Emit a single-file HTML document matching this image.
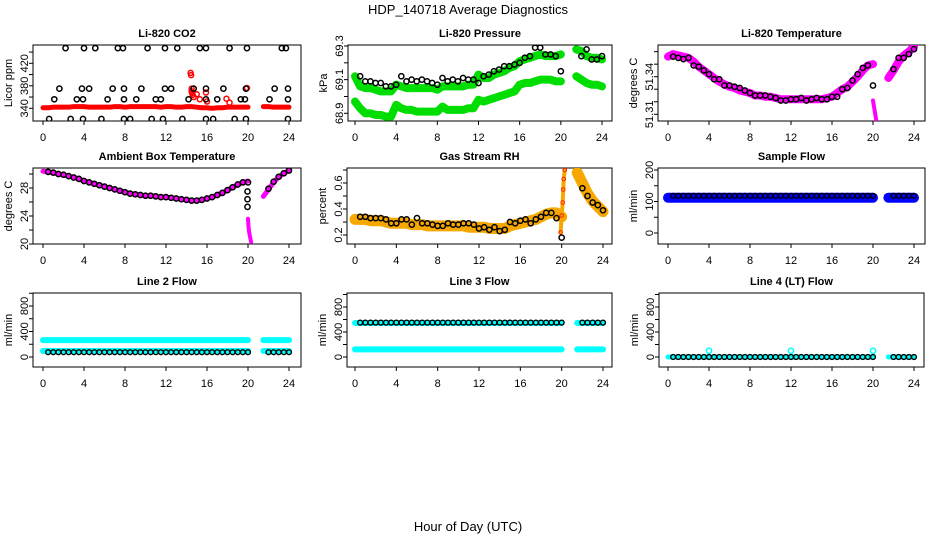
<!DOCTYPE html>
<html><head><meta charset="utf-8"><style>
html,body{margin:0;padding:0;background:#fff;}
svg text{font-family:"Liberation Sans",Arial,sans-serif;}
</style></head><body>
<svg id="chart" width="936" height="540" viewBox="0 0 936 540" xmlns="http://www.w3.org/2000/svg">
<rect width="936" height="540" fill="#fff"/>
<text x="468" y="14" font-size="13" text-anchor="middle">HDP_140718  Average Diagnostics</text>
<text x="468" y="531" font-size="13" text-anchor="middle">Hour of Day (UTC)</text>
</svg>
<script>
// ---- shared hour arrays ----
const colH = [0,0.5,1,1.5,2,2.5,3,3.5,4,4.5,5,5.5,6,6.5,7,7.5,8,8.5,9,9.5,10,10.5,11,11.5,12,12.5,13,13.5,14,14.5,15,15.5,16,16.5,17,17.5,18,18.5,19,19.5,20,21.5,22,22.5,23,23.5,24];
const blackH = [0.5,1,1.5,2,2.5,3,3.5,4,4.5,5,5.5,6,6.5,7,7.5,8,8.5,9,9.5,10,10.5,11,11.5,12,12.5,13,13.5,14,14.5,15,15.5,16,16.5,17,17.5,18,18.5,19,19.5,20,22,22.5,23,23.5,24];
const xTicks = [0,4,8,12,16,20,24];

// ---- CO2 ----
const co2Red = [341,341,342,342,342,342,343,343,343,342,342,342,342,342,343,343,342,343,343,343,343,343,343,342,343,343,342,342,343,343,342,341,341,340,341,341,342,342,342,342,342,343,343,342,342,342,342];
const co2SpikeX = [14.4,14.45,14.5,14.5,14.55,14.6,14.7,15,15.3,15.9,16,17.9,18.2,19.9];
const co2SpikeY = [403,399,375,370,367,364,360,365,356,368,352,357,350,376];
const co2BlackX = [2.2,4,5.1,7.3,7.8,10.2,11.9,13.1,15.3,15.9,18.2,19.9,23.3,23.7, 1.6,3.8,4.5,6.8,7.9,9.6,11.9,12.5,14.7,15.9,17.6,19.8,22.6,23.9, 1.1,3.3,3.9,6.3,7.9,9.1,11,11.5,14.2,15.9,17,19.3,19.7,22.1,23.9, 0.6,2.7,3.9,5.7,7.9,8.5,10.6,11.7,13.6,15.9,16.6,18.7,19.8,23.9];
const co2BlackY = [447,447,447,447,447,447,447,447,447,447,447,447,447,447, 375,375,375,375,375,375,375,375,375,375,375,375,375,375, 356,356,356,356,356,356,356,356,356,356,356,356,356,356,356, 321,321,321,321,321,321,321,321,321,321,321,321,321,321];

// ---- Pressure ----
const presUpper = [69.12,69.06,69.05,69.05,69.04,69.03,69.03,69.03,69.07,69.06,69.05,69.05,69.05,69.05,69.05,69.05,69.04,69.06,69.06,69.06,69.06,69.06,69.07,69.07,69.13,69.11,69.11,69.13,69.14,69.15,69.17,69.18,69.21,69.22,69.23,69.24,69.25,69.24,69.24,69.24,69.25,69.28,69.27,69.24,69.23,69.23,69.22];
const presLower = [68.97,68.93,68.9,68.9,68.89,68.89,68.88,68.88,68.95,68.93,68.92,68.92,68.91,68.91,68.91,68.91,68.91,68.94,68.92,68.92,68.92,68.92,68.93,68.93,68.98,68.97,68.98,68.99,69.0,69.01,69.02,69.03,69.07,69.08,69.08,69.09,69.1,69.1,69.1,69.09,69.09,69.12,69.1,69.08,69.07,69.07,69.06];
const presBlack = [69.12,69.09,69.09,69.08,69.08,69.06,69.06,69.07,69.12,69.09,69.1,69.09,69.1,69.09,69.08,69.07,69.11,69.09,69.1,69.09,69.11,69.1,69.1,69.08,69.12,69.13,69.15,69.16,69.18,69.18,69.19,69.2,69.23,69.24,69.29,69.29,69.25,69.25,69.24,69.15,69.24,69.28,69.22,69.22,69.24];

// ---- Li-820 temperature ----
const tempMag = [51.356,51.358,51.357,51.356,51.355,51.352,51.348,51.345,51.342,51.339,51.336,51.334,51.332,51.331,51.329,51.328,51.327,51.325,51.325,51.324,51.324,51.323,51.322,51.322,51.322,51.322,51.322,51.322,51.322,51.322,51.322,51.323,51.324,51.327,51.330,51.332,51.336,51.340,51.345,51.349,51.350,51.339,51.345,51.352,51.357,51.360,51.364];
const tempDropX = [20.0,20.1,20.2,20.3];
const tempDropY = [51.321,51.316,51.311,51.306];
const tempBlack = [51.356,51.355,51.354,51.355,51.349,51.348,51.345,51.342,51.338,51.338,51.333,51.333,51.332,51.331,51.329,51.327,51.325,51.325,51.325,51.324,51.323,51.321,51.321,51.322,51.322,51.323,51.321,51.322,51.323,51.322,51.322,51.324,51.324,51.330,51.331,51.337,51.342,51.347,51.349,51.333,51.346,51.355,51.355,51.358,51.362];

// ---- Ambient box temperature ----
const ambMag = [30.4,30.3,30.2,30.0,29.9,29.7,29.5,29.3,29.0,28.8,28.6,28.4,28.2,28.0,27.8,27.6,27.4,27.2,27.1,27.0,26.9,26.9,26.8,26.7,26.7,26.6,26.5,26.4,26.3,26.2,26.2,26.3,26.5,26.7,27.0,27.3,27.7,28.1,28.5,28.8,29.0,26.8,27.8,28.8,29.6,30.1,30.5];
const ambDropX = [20,20.05,20.1,20.2,20.3];
const ambDropY = [23.6,22.5,21.8,21,20.3];
const ambBlack = [30.3,30.2,30.0,29.9,29.7,29.5,29.3,29.0,28.8,28.6,28.4,28.2,28.0,27.8,27.6,27.4,27.2,27.1,27.0,26.9,26.9,26.8,26.7,26.7,26.6,26.5,26.4,26.3,26.2,26.2,26.3,26.5,26.7,27.0,27.3,27.7,28.1,28.5,28.8,28.8,27.9,28.9,29.6,30.1,30.5];
const ambOutX = [19.95,19.95,19.95];
const ambOutY = [27.5,26.4,25.3];

// ---- Gas stream RH ----
const rhOrange = [0.32,0.32,0.32,0.31,0.31,0.31,0.3,0.29,0.29,0.29,0.29,0.28,0.28,0.28,0.27,0.27,0.27,0.27,0.27,0.27,0.27,0.27,0.26,0.26,0.26,0.26,0.25,0.25,0.25,0.25,0.27,0.28,0.29,0.3,0.31,0.32,0.34,0.36,0.37,0.37,0.34,0.68,0.6,0.52,0.46,0.42,0.38];
const rhSpikeX = [19.9,20.0,20.1,20.15,20.2,20.3];
const rhSpikeY = [0.22,0.35,0.45,0.55,0.63,0.7];
const rhBlack = [0.34,0.34,0.33,0.33,0.33,0.32,0.29,0.29,0.32,0.32,0.28,0.33,0.29,0.29,0.28,0.27,0.27,0.29,0.28,0.28,0.29,0.29,0.28,0.25,0.26,0.24,0.26,0.23,0.24,0.3,0.29,0.31,0.32,0.29,0.32,0.34,0.37,0.37,0.33,0.18,0.56,0.5,0.45,0.43,0.39];

// ---- Flows ----
const sampleBlue = colH.map(() => 112);
const sampleBlack = blackH.map(() => 118);
const l2CyanHi = colH.map(() => 265);
const l2CyanLo = colH.map(() => 95);
const l2Black = blackH.map(() => 75);
const l3CyanHi = colH.map(() => 545);
const l3CyanLo = colH.map(() => 122);
const l3Black = blackH.map(() => 550);
const l4Cyan = colH.map(() => 0);
const l4Black = blackH.map(() => 0);
const l4OutX = [4,12,20];
const l4OutY = [100,100,100];

const NS = 'http://www.w3.org/2000/svg';
const svg = document.getElementById('chart');
function mk(tag, attrs, parent) {
  const e = document.createElementNS(NS, tag);
  for (const k in attrs) e.setAttribute(k, attrs[k]);
  (parent || svg).appendChild(e);
  return e;
}

function makePanel(p) {
  const g = mk('g', {});
  
  
  const sx = h => p.x0 + (h / 24) * (p.x24 - p.x0);
  const sy = v => p.p0 + (v - p.v0) / (p.v1 - p.v0) * (p.p1 - p.p0);
  const box = mk('rect', {x: p.l, y: p.t, width: p.r - p.l, height: p.b - p.t, fill: 'none', stroke: '#000', 'stroke-width': 1}, g);
  
  
  const t = mk('text', {x: (p.l + p.r) / 2, y: p.t - 8, 'font-size': 11, 'font-weight': 'bold', 'text-anchor': 'middle'}, g);
  t.textContent = p.title;
  
  
  // x axis
  xTicks.forEach(h => {
    mk('line', {x1: sx(h), x2: sx(h), y1: p.b, y2: p.b + 4, stroke: '#000'}, g);
    const tx = mk('text', {x: sx(h), y: p.b + 20, 'font-size': 11, 'text-anchor': 'middle'}, g);
    tx.textContent = h;
    
    
  });
  // y axis
  p.yticks.forEach(v => {
    mk('line', {x1: p.l - 4, x2: p.l, y1: sy(v), y2: sy(v), stroke: '#000'}, g);
  });
  p.ylabels.forEach((lab, i) => {
    const yy = sy(p.ylabelVals[i]);
    const tx = mk('text', {x: 0, y: 0, 'font-size': 11, 'text-anchor': 'middle', transform: `translate(${p.l - 8},${yy}) rotate(-90)`, 'dominant-baseline': 'central'}, g);
    tx.textContent = lab;
    
    
  });
  const yt = mk('text', {x: 0, y: 0, 'font-size': 11, 'text-anchor': 'middle', transform: `translate(${p.l - 24},${(p.t + p.b) / 2}) rotate(-90)`, 'dominant-baseline': 'central'}, g);
  yt.textContent = p.ylab;
  
  
  const clip = 'clip-' + p.name;
  const cp = mk('clipPath', {id: clip}, g);
  mk('rect', {x: p.l, y: p.t, width: p.r - p.l, height: p.b - p.t}, cp);
  const dg = mk('g', {'clip-path': `url(#${clip})`}, g);
  return {g: dg, sx, sy};
}

function band(P, xs, ys, color, w, name) {
  let seg = [];
  const segs = [];
  xs.forEach((x, i) => {
    if (seg.length && x - xs[i - 1] > 1) { segs.push(seg); seg = []; }
    seg.push([P.sx(x), P.sy(ys[i])]);
  });
  segs.push(seg);
  segs.forEach(s => {
    const pl = mk('polyline', {points: s.map(q => q.join(',')).join(' '), fill: 'none', stroke: color, 'stroke-width': w, 'stroke-linejoin': 'round', 'stroke-linecap': 'round'}, P.g);
    
    
  });
}
function pts(P, xs, ys, color, r, sw, name) {
  xs.forEach((x, i) => {
    const c = mk('circle', {cx: P.sx(x), cy: P.sy(ys[i]), r: r, fill: 'none', stroke: color, 'stroke-width': sw}, P.g);
    
    
  });
}

// Panel 1: CO2
let P = makePanel({name: 'panel-li820-co2', l: 33, r: 301, t: 45, b: 121, x0: 43, x24: 289, v0: 340, p0: 108.3, v1: 420, p1: 63.3,
  yticks: [340,360,380,400,420,440], ylabels: ['340','380','420'], ylabelVals: [340,380,420], title: 'Li-820 CO2', ylab: 'Licor ppm'});
band(P, colH, co2Red, '#ff0000', 5, 'co2-red-series');
pts(P, co2SpikeX, co2SpikeY, '#ff0000', 2.5, 1.5, 'co2-red-point');
pts(P, co2BlackX, co2BlackY, '#000', 2.6, 1.5, 'co2-black-point');

// Panel 2: Pressure
P = makePanel({name: 'panel-li820-pressure', l: 348, r: 612, t: 45, b: 121, x0: 355, x24: 602, v0: 68.9, p0: 113.3, v1: 69.3, p1: 46,
  yticks: [68.9,69.0,69.1,69.2,69.3], ylabels: ['68.9','69.1','69.3'], ylabelVals: [68.9,69.1,69.3], title: 'Li-820 Pressure', ylab: 'kPa'});
band(P, colH, presUpper, '#00dd00', 8, 'pressure-green-upper');
band(P, colH, presLower, '#00dd00', 8, 'pressure-green-lower');
pts(P, blackH, presBlack, '#000', 2.6, 1.5, 'pressure-black-point');

// Panel 3: Li-820 temperature
P = makePanel({name: 'panel-li820-temperature', l: 658, r: 925, t: 45, b: 121, x0: 668, x24: 914, v0: 51.31, p0: 114.3, v1: 51.34, p1: 76.7,
  yticks: [51.31,51.32,51.33,51.34,51.35,51.36], ylabels: ['51.31','51.34'], ylabelVals: [51.31,51.34], title: 'Li-820 Temperature', ylab: 'degrees C'});
band(P, colH, tempMag, '#ff00ff', 8, 'temp-magenta-series');
band(P, tempDropX, tempDropY, '#ff00ff', 4, 'temp-magenta-drop');
pts(P, blackH, tempBlack, '#000', 2.6, 1.5, 'temp-black-point');

// Panel 4: Ambient box temperature
P = makePanel({name: 'panel-ambient-box-temperature', l: 33, r: 301, t: 168, b: 244, x0: 43, x24: 289, v0: 20, p0: 244, v1: 28, p1: 188,
  yticks: [20,22,24,26,28,30], ylabels: ['20','24','28'], ylabelVals: [20,24,28], title: 'Ambient Box Temperature', ylab: 'degrees C'});
band(P, colH, ambMag, '#ff00ff', 5, 'ambient-magenta-series');
band(P, ambDropX, ambDropY, '#ff00ff', 4, 'ambient-magenta-drop');
pts(P, blackH, ambBlack, '#000', 2.6, 1.5, 'ambient-black-point');
pts(P, ambOutX, ambOutY, '#000', 2.6, 1.5, 'ambient-black-outlier');

// Panel 5: Gas stream RH
P = makePanel({name: 'panel-gas-stream-rh', l: 347, r: 612, t: 168, b: 244, x0: 355, x24: 603, v0: 0.2, p0: 235, v1: 0.6, p1: 183,
  yticks: [0.2,0.3,0.4,0.5,0.6,0.7], ylabels: ['0.2','0.4','0.6'], ylabelVals: [0.2,0.4,0.6], title: 'Gas Stream RH', ylab: 'percent'});
band(P, colH, rhOrange, '#f7a800', 11, 'rh-orange-series');
band(P, rhSpikeX, rhSpikeY, '#f7a800', 4, 'rh-orange-spike');
pts(P, rhSpikeX, rhSpikeY, '#ff2000', 1.8, 1, 'rh-red-point');
pts(P, blackH, rhBlack, '#000', 2.6, 1.5, 'rh-black-point');

// Panel 6: Sample flow
P = makePanel({name: 'panel-sample-flow', l: 658, r: 925, t: 168, b: 244, x0: 668, x24: 914, v0: 0, p0: 233, v1: 200, p1: 170,
  yticks: [0,50,100,150,200], ylabels: ['0','100','200'], ylabelVals: [0,100,200], title: 'Sample Flow', ylab: 'ml/min'});
band(P, colH, sampleBlue, '#0000ff', 10, 'sample-blue-series');
pts(P, blackH, sampleBlack, '#000', 2.4, 1.4, 'sample-black-point');

// Panel 7: Line 2 flow
P = makePanel({name: 'panel-line2-flow', l: 33, r: 301, t: 293, b: 367, x0: 43, x24: 289, v0: 0, p0: 357, v1: 800, p1: 306,
  yticks: [0,200,400,600,800,1000], ylabels: ['0','400','800'], ylabelVals: [0,400,800], title: 'Line 2 Flow', ylab: 'ml/min'});
band(P, colH, l2CyanHi, '#00ffff', 6, 'line2-cyan-upper');
band(P, colH, l2CyanLo, '#00ffff', 6, 'line2-cyan-lower');
pts(P, blackH, l2Black, '#000', 2.4, 1.4, 'line2-black-point');

// Panel 8: Line 3 flow
P = makePanel({name: 'panel-line3-flow', l: 347, r: 612, t: 293, b: 367, x0: 355, x24: 603, v0: 0, p0: 357, v1: 800, p1: 307,
  yticks: [0,200,400,600,800,1000], ylabels: ['0','400','800'], ylabelVals: [0,400,800], title: 'Line 3 Flow', ylab: 'ml/min'});
band(P, colH, l3CyanHi, '#00ffff', 6, 'line3-cyan-upper');
band(P, colH, l3CyanLo, '#00ffff', 6, 'line3-cyan-lower');
pts(P, blackH, l3Black, '#000', 2.4, 1.4, 'line3-black-point');

// Panel 9: Line 4 flow
P = makePanel({name: 'panel-line4-flow', l: 659, r: 924, t: 293, b: 367, x0: 668, x24: 914, v0: 0, p0: 357, v1: 800, p1: 307,
  yticks: [0,200,400,600,800,1000], ylabels: ['0','400','800'], ylabelVals: [0,400,800], title: 'Line 4 (LT) Flow', ylab: 'ml/min'});
band(P, colH, l4Cyan, '#00ffff', 5, 'line4-cyan-series');
pts(P, l4OutX, l4OutY, '#00ffff', 2.6, 1.5, 'line4-cyan-outlier');
pts(P, blackH, l4Black, '#000', 2.4, 1.4, 'line4-black-point');
</script>
</body></html>
